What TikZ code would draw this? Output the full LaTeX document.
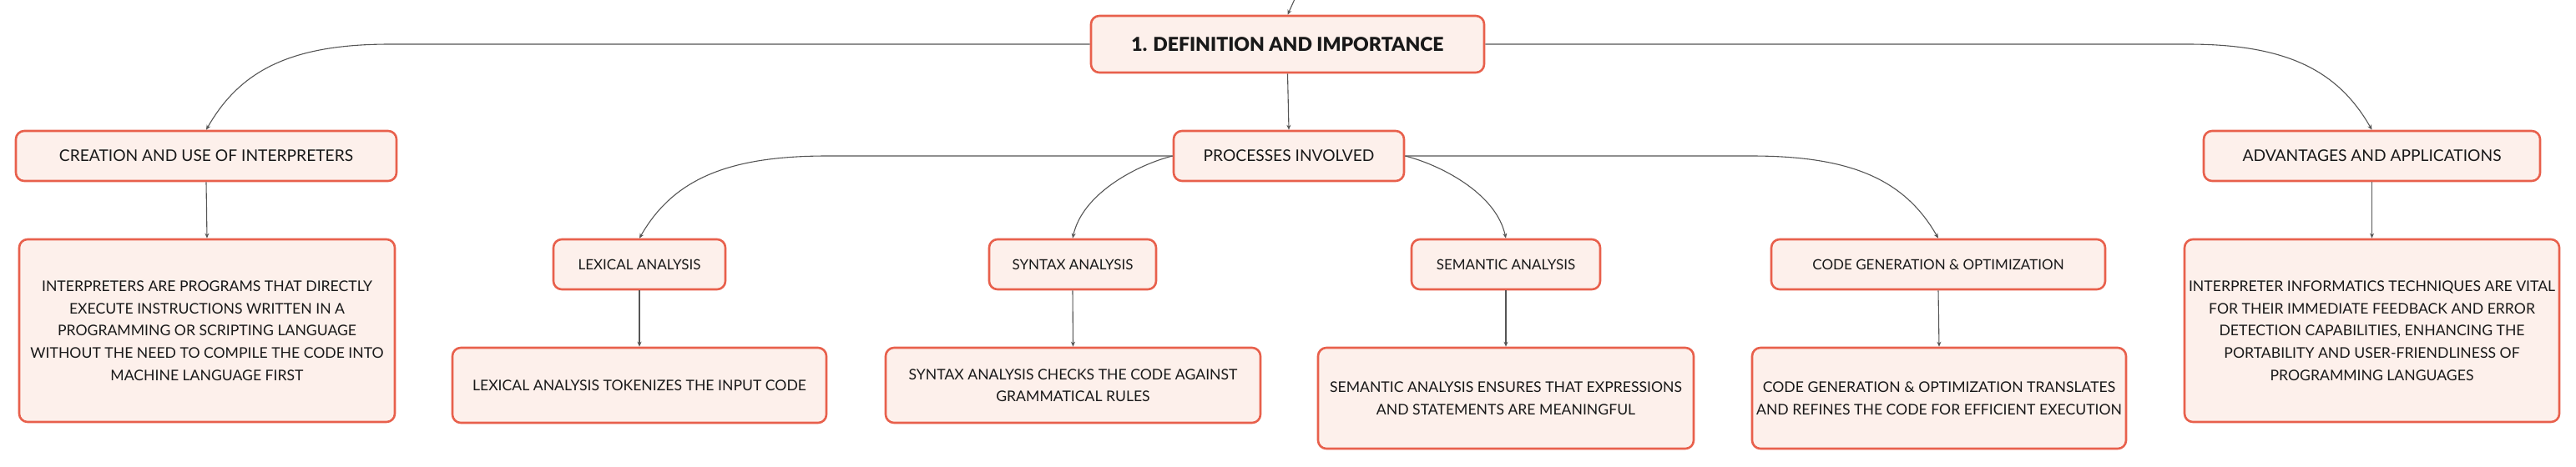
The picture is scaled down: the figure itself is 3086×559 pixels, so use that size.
\documentclass[tikz,border=0pt]{standalone}
\usepackage{fontspec}
\setmainfont{Lato}
\newfontfamily\heavyfont{Lato Black}
\usetikzlibrary{arrows.meta}

\definecolor{boxline}{HTML}{E8604C}
\definecolor{boxfill}{HTML}{FDF0EB}
\definecolor{linkgray}{HTML}{555555}

\tikzset{
  box/.style={draw=boxline, fill=boxfill, line width=1.3pt, rounded corners=5pt,
    inner sep=2pt, align=center, text=black!90},
  rootbox/.style={box, font=\fontsize{11.5}{14}\selectfont\heavyfont},
  topic/.style={box, minimum height=30pt, font=\fontsize{9.6}{12}\selectfont},
  subtopic/.style={box, minimum height=30pt, font=\fontsize{8.5}{11}\selectfont},
  detail/.style={box, font=\fontsize{8.8}{13.3}\selectfont},
  link/.style={draw=linkgray, line width=0.55pt, ->}
}

\begin{document}
\begin{tikzpicture}[x=0.5pt, y=-0.5pt, >={Stealth[length=3pt,width=2.5pt]}]
      \useasboundingbox (0,0) rectangle (3086,559);
      \node[rootbox, minimum width=235.5pt, minimum height=34pt] (root) at (1542.5,53) {1. DEFINITION AND IMPORTANCE};
      \node[topic, minimum width=228pt] (create) at (247,187) {CREATION AND USE OF INTERPRETERS};
      \node[topic, minimum width=138pt] (proc) at (1544,187) {PROCESSES INVOLVED};
      \node[topic, minimum width=201.5pt] (adv) at (2841.5,187) {ADVANTAGES AND APPLICATIONS};
      \node[detail, minimum width=225pt, minimum height=109.5pt] (createtxt) at (248,396.5) {INTERPRETERS ARE PROGRAMS THAT DIRECTLY\\EXECUTE INSTRUCTIONS WRITTEN IN A\\PROGRAMMING OR SCRIPTING LANGUAGE\\WITHOUT THE NEED TO COMPILE THE CODE INTO\\MACHINE LANGUAGE FIRST};
      \node[detail, minimum width=224.5pt, minimum height=109.5pt] (advtxt) at (2841.5,396.5) {INTERPRETER INFORMATICS TECHNIQUES ARE VITAL\\FOR THEIR IMMEDIATE FEEDBACK AND ERROR\\DETECTION CAPABILITIES, ENHANCING THE\\PORTABILITY AND USER-FRIENDLINESS OF\\PROGRAMMING LANGUAGES};
      \node[subtopic, minimum width=103pt] (lex) at (766,317) {LEXICAL ANALYSIS};
      \node[subtopic, minimum width=100pt] (syn) at (1285,317) {SYNTAX ANALYSIS};
      \node[subtopic, minimum width=113pt] (sem) at (1804,317) {SEMANTIC ANALYSIS};
      \node[subtopic, minimum width=200pt] (code) at (2322,317) {CODE GENERATION \& OPTIMIZATION};
      \node[detail, minimum width=224pt, minimum height=45pt] (lextxt) at (766,462) {LEXICAL ANALYSIS TOKENIZES THE INPUT CODE};
      \node[detail, minimum width=224.5pt, minimum height=45pt] (syntxt) at (1285.5,462) {SYNTAX ANALYSIS CHECKS THE CODE AGAINST\\GRAMMATICAL RULES};
      \node[detail, minimum width=225pt, minimum height=60.5pt] (semtxt) at (1804,477.5) {SEMANTIC ANALYSIS ENSURES THAT EXPRESSIONS\\AND STATEMENTS ARE MEANINGFUL};
      \node[detail, minimum width=224pt, minimum height=60.5pt] (codetxt) at (2323,477.5) {CODE GENERATION \& OPTIMIZATION TRANSLATES\\AND REFINES THE CODE FOR EFFICIENT EXECUTION};
      \coordinate (up) at (1551,-1);
      \draw[link] (up) -- (root.north); % parent -> root
      \draw[link] (root.west) -- ++(-839,0) .. controls +(-120,0) and +(40,-70) .. (create.north); % root -> create
      \draw[link] (root.south) -- (proc.north); % root -> proc
      \draw[link] (root.east) -- ++(842,0) .. controls +(120,0) and +(-40,-70) .. (adv.north); % root -> adv
      \draw[link] (create.south) -- (createtxt.north);
      \draw[link] (adv.south) -- (advtxt.north);
      \draw[link] (proc.west) -- ++(-414,0) .. controls +(-120,0) and +(40,-70) .. (lex.north); % proc -> lex
      \draw[link] (proc.west) .. controls +(-40,10) and +(12,-55) .. (syn.north); % proc -> syn
      \draw[link] (proc.east) .. controls +(40,10) and +(-12,-55) .. (sem.north); % proc -> sem
      \draw[link] (proc.east) -- ++(415,0) .. controls +(120,0) and +(-40,-70) .. (code.north); % proc -> code
      \draw[link] (lex.south) -- (lextxt.north);
      \draw[link] (syn.south) -- (syntxt.north);
      \draw[link] (sem.south) -- (semtxt.north);
      \draw[link] (code.south) -- (codetxt.north);
    \end{tikzpicture}
\end{document}
